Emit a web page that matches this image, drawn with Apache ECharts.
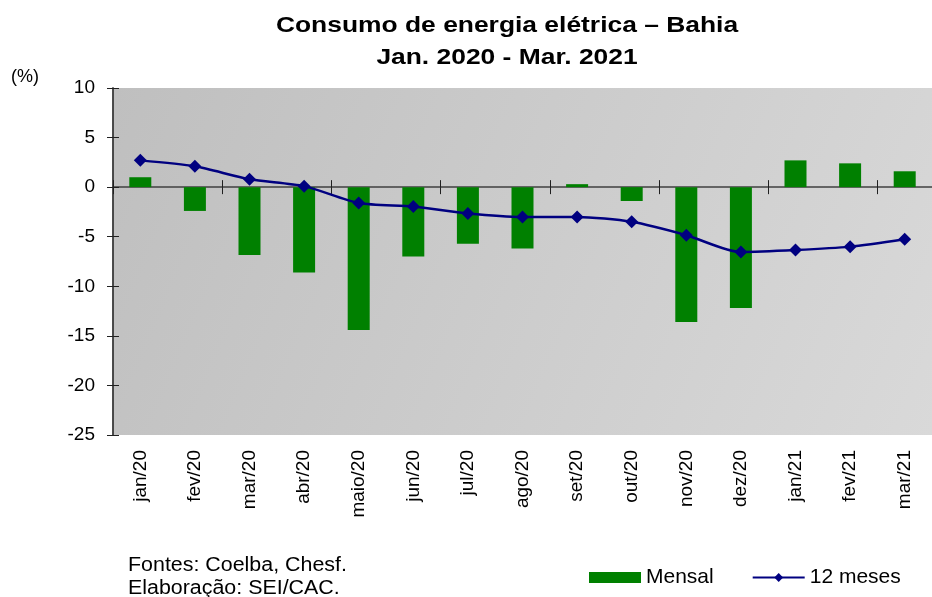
<!DOCTYPE html>
<html>
<head>
<meta charset="utf-8">
<script src="https://cdn.jsdelivr.net/npm/echarts@6/dist/echarts.min.js"></script>
<style>
  html, body { margin: 0; padding: 0; background: #fff; }
  #chart { width: 932px; height: 597px; }
</style>
</head>
<body>
<div id="chart"></div>
<script>
// meses e valores (%)
var meses = ['jan/20', 'fev/20', 'mar/20', 'abr/20', 'maio/20', 'jun/20', 'jul/20', 'ago/20',
  'set/20', 'out/20', 'nov/20', 'dez/20', 'jan/21', 'fev/21', 'mar/21'];
var mensal = [1.0, -2.4, -6.85, -8.6, -14.4, -7.0, -5.7, -6.2, 0.3, -1.4, -13.6, -12.2, 2.7, 2.4, 1.6];
var dozeMeses = [2.7, 2.1, 0.8, 0.1, -1.6, -1.95, -2.65, -3.0, -3.0, -3.5, -4.85, -6.55, -6.35, -6.0, -5.25];

var fonte = 'Liberation Sans, Arial, sans-serif';

var chart = echarts.init(document.getElementById('chart'));

chart.setOption({
  animation: false,
  textStyle: { fontFamily: fonte, color: '#000' },
  grid: {
    left: 113, right: 0, top: 88, bottom: 162,
    show: true,
    borderWidth: 0,
    backgroundColor: {
      type: 'linear', x: 0, y: 0, x2: 1, y2: 1,
      colorStops: [{ offset: 0, color: '#bfbfbf' }, { offset: 1, color: '#d9d9d9' }]
    }
  },
  legend: {
    left: 584, top: 562,
    itemWidth: 52, itemHeight: 11, itemGap: 38,
    textStyle: { fontFamily: fonte, fontSize: 21, color: '#000' },
    data: [{ name: 'Mensal', icon: 'rect' }, { name: '12 meses' }]
  },
  xAxis: [
    {
      type: 'category', data: meses, position: 'bottom',
      axisLine: { onZero: true, lineStyle: { color: '#404040', width: 1.5 } },
      axisTick: { show: true, length: 7, lineStyle: { color: '#202020' } },
      axisLabel: { show: false }
    },
    {
      type: 'category', data: meses, position: 'top',
      axisLine: { show: false, onZero: true },
      axisTick: { show: true, length: 7, lineStyle: { color: '#202020' } },
      axisLabel: { show: false }
    },
    {
      type: 'category', data: meses, position: 'bottom',
      axisLine: { show: false, onZero: false },
      axisTick: { show: false },
      axisLabel: { rotate: 90, fontSize: 19, margin: 15, color: '#000', fontFamily: fonte }
    }
  ],
  yAxis: [
    {
      type: 'value', min: -25, max: 10, interval: 5, position: 'left',
      axisLine: { show: true, lineStyle: { color: '#404040', width: 1.5 } },
      axisTick: { show: true, length: 6, lineStyle: { color: '#202020' } },
      splitLine: { show: false },
      axisLabel: { fontSize: 19, margin: 18, color: '#000', fontFamily: fonte }
    },
    {
      type: 'value', min: -25, max: 10, interval: 5, position: 'left',
      axisLine: { show: true, lineStyle: { color: '#404040', width: 1.5 } },
      axisTick: { show: true, inside: true, length: 6, lineStyle: { color: '#202020' } },
      splitLine: { show: false },
      axisLabel: { show: false }
    }
  ],
  series: [
    {
      name: 'Mensal', type: 'bar', data: mensal,
      barWidth: 22,
      itemStyle: { color: '#008000' }
    },
    {
      name: '12 meses', type: 'line', data: dozeMeses,
      smooth: 0.25,
      symbol: 'diamond', symbolSize: 13,
      itemStyle: { color: '#000080' },
      lineStyle: { color: '#000080', width: 2.5 }
    }
  ],
  graphic: [
    {
      type: 'text', x: 507, y: 26, scaleX: 1.2,
      style: { x: 0, y: 0, text: 'Consumo de energia elétrica – Bahia', font: 'bold 22px ' + fonte,
        fill: '#000', textAlign: 'center', textVerticalAlign: 'middle' }
    },
    {
      type: 'text', x: 507, y: 58, scaleX: 1.2,
      style: { x: 0, y: 0, text: 'Jan. 2020 - Mar. 2021', font: 'bold 22px ' + fonte,
        fill: '#000', textAlign: 'center', textVerticalAlign: 'middle' }
    },
    {
      type: 'text', x: 11, y: 77,
      style: { x: 0, y: 0, text: '(%)', font: '18px ' + fonte, fill: '#000', textVerticalAlign: 'middle' }
    },
    {
      type: 'text', x: 128, y: 565, scaleX: 1.07,
      style: { x: 0, y: 0, text: 'Fontes: Coelba, Chesf.', font: '20px ' + fonte, fill: '#000', textVerticalAlign: 'middle' }
    },
    {
      type: 'text', x: 128, y: 588, scaleX: 1.07,
      style: { x: 0, y: 0, text: 'Elaboração: SEI/CAC.', font: '20px ' + fonte, fill: '#000', textVerticalAlign: 'middle' }
    }
  ]
});
</script>
</body>
</html>
